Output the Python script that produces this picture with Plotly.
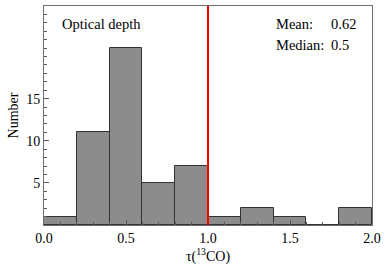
import plotly.graph_objects as go

bin_left = [0.0, 0.2, 0.4, 0.6, 0.8, 1.0, 1.2, 1.4, 1.6, 1.8]
counts = [1, 11, 21, 5, 7, 1, 2, 1, 0, 2]
bin_width = 0.2
x_ticks = [0.0, 0.5, 1.0, 1.5, 2.0]
x_ticklabels = ["0.0", "0.5", "1.0", "1.5", "2.0"]
y_ticks = [5, 10, 15]
threshold = 1.0

centers = [b + bin_width / 2 for b in bin_left]

fig = go.Figure()
fig.add_trace(go.Bar(
    x=centers, y=counts, width=[bin_width] * len(counts),
    marker=dict(color="rgb(140,140,140)", line=dict(color="rgb(50,50,50)", width=1)),
    showlegend=False,
))
fig.add_shape(type="line", x0=threshold, x1=threshold, y0=0, y1=1, yref="paper",
              line=dict(color="red", width=2))

FAM = "Liberation Serif, Times New Roman, serif"
font = dict(family=FAM, size=14, color="black")
notes = [
    (0.05, 0.918, "Optical depth"),
    (0.70, 0.918, "Mean:"),
    (0.869, 0.918, "0.62"),
    (0.70, 0.822, "Median:"),
    (0.869, 0.822, "0.5"),
]
for nx, ny, txt in notes:
    fig.add_annotation(x=nx, y=ny, xref="paper", yref="paper", text=txt,
                       showarrow=False, xanchor="left", yanchor="middle",
                       font=dict(family=FAM, size=14.5, color="black"))

fig.update_layout(
    width=390, height=271,
    margin=dict(l=44, r=18, t=6, b=46),
    plot_bgcolor="white", paper_bgcolor="white",
    font=font, bargap=0,
    xaxis=dict(range=[0, 2.0], tickvals=x_ticks, ticktext=x_ticklabels,
               ticks="inside", ticklen=5, tickcolor="rgb(90,90,90)",
               showline=True, linecolor="rgb(110,110,110)", linewidth=1, mirror=True,
               showgrid=False, zeroline=False, tickfont=font,
               minor=dict(dtick=0.1, ticks="inside", ticklen=3, tickcolor="rgb(90,90,90)"),
               title=dict(text="τ(<sup>13</sup>CO)", standoff=6, font=font)),
    yaxis=dict(range=[0, 26], tickvals=y_ticks,
               ticks="inside", ticklen=5, tickcolor="rgb(90,90,90)",
               showline=True, linecolor="rgb(110,110,110)", linewidth=1, mirror=True,
               showgrid=False, zeroline=False, tickfont=font,
               minor=dict(dtick=1, ticks="inside", ticklen=3, tickcolor="rgb(90,90,90)"),
               title=dict(text="Number", standoff=4, font=font)),
)

fig.write_html("out.html", config={"displayModeBar": False})
with open("out.html", encoding="utf-8") as f:
    html = f.read()
html = html.replace("<body>", '<body style="margin:0;padding:0">', 1)
with open("out.html", "w", encoding="utf-8") as f:
    f.write(html)
